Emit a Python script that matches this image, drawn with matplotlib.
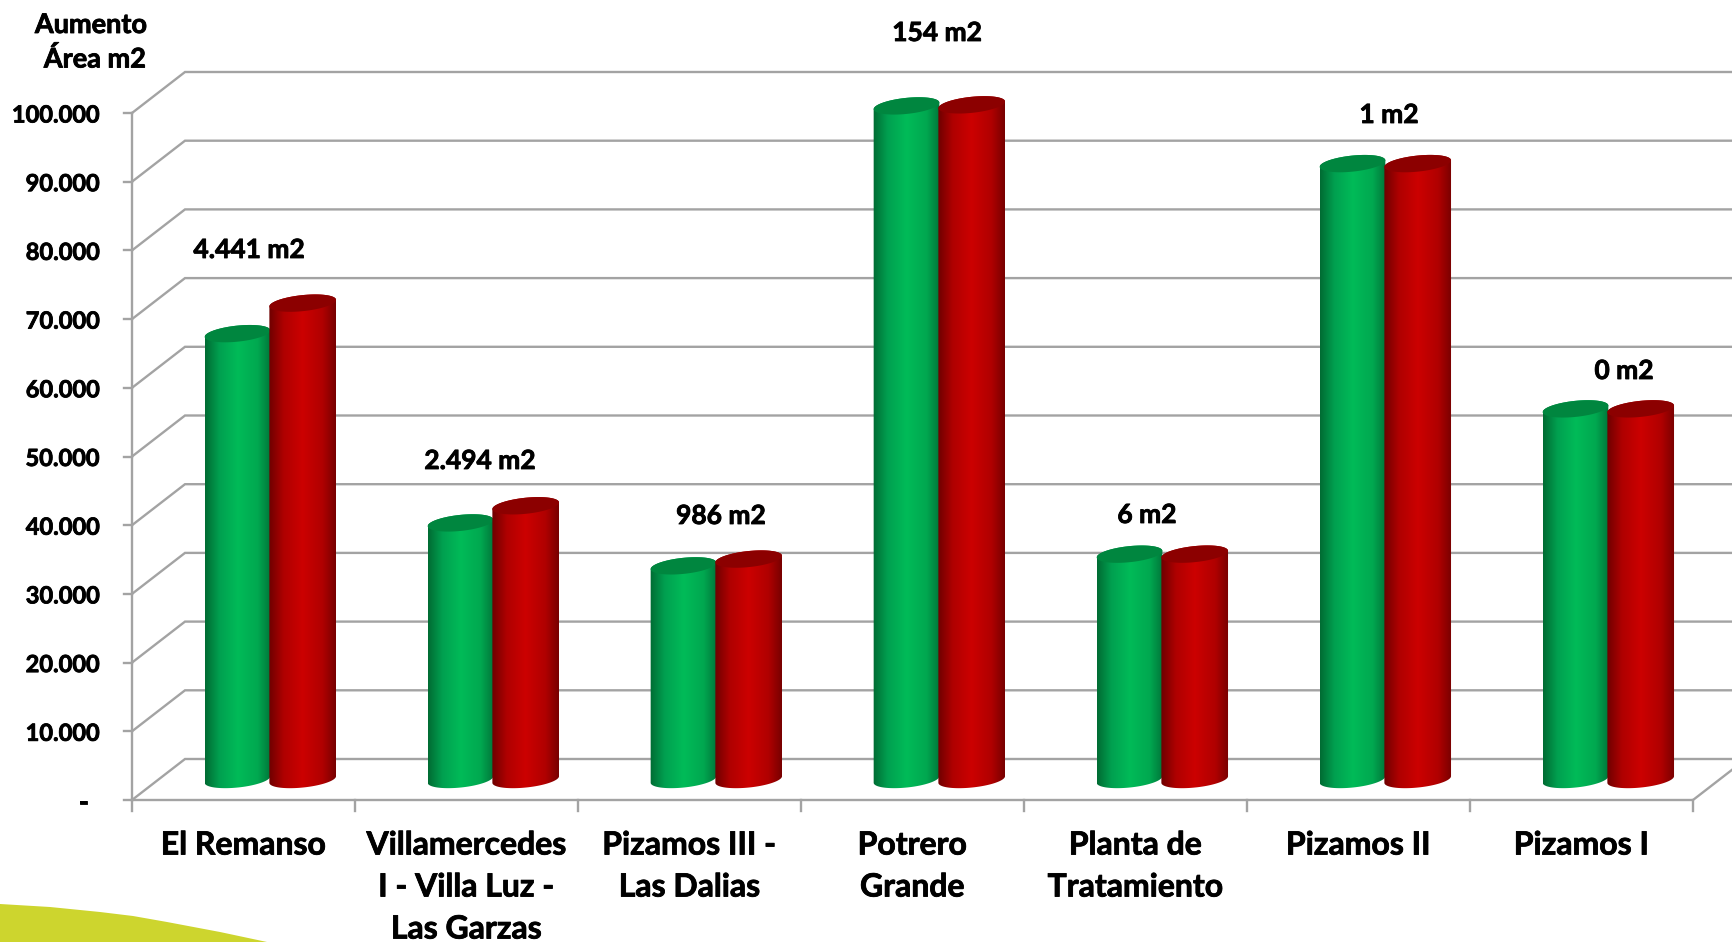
import numpy as np
import matplotlib
matplotlib.use("Agg")
import matplotlib.pyplot as plt
import matplotlib.patheffects as pe
from matplotlib.patches import Polygon

plt.rcParams['font.family'] = ['Lato', 'DejaVu Sans']

categories = ["El Remanso",
              "Villamercedes\nI - Villa Luz -\nLas Garzas",
              "Pizamos III -\nLas Dalias",
              "Potrero\nGrande",
              "Planta de\nTratamiento",
              "Pizamos II",
              "Pizamos I"]
area_before = [64900, 37350, 31100, 98050, 32800, 89650, 53950]
area_after = [69341, 39844, 32086, 98204, 32806, 89651, 53950]
value_ticks = [0, 10000, 20000, 30000, 40000, 50000, 60000, 70000, 80000, 90000, 100000]

# pixel layout of the 3d box
W, H = 1733, 942
X0, Y0 = 132, 800
CAT_W = 223
TEN_K = 68.7
DEPTH_X, DEPTH_Y = 53, 41
HALF_BAR = 33
MINOR = 8.0
TILT = np.radians(6)


def dx(px):
    return px / CAT_W


def dy(px):
    return px / TEN_K * 10000


def dots(v):
    return f"{v:,.0f}".replace(",", ".")


# bold text, slightly thickened
heavy = [pe.withStroke(linewidth=0.6, foreground="black")]

fig = plt.figure(figsize=(W / 100, H / 100), dpi=100)
ax = fig.add_axes([0, 0, 1, 1])
ax.set_xlim(-dx(X0), dx(W - X0))
ax.set_ylim(-dy(H - Y0), dy(Y0))
ax.axis("off")

n = len(categories)
grid = "#a3a3a3"
lw = 1.7
right = n + dx(DEPTH_X)

# back wall, side wall and tick marks
for v in value_ticks:
    ax.plot([0, dx(DEPTH_X), right], [v, v + dy(DEPTH_Y), v + dy(DEPTH_Y)],
            color=grid, lw=lw, solid_joinstyle="miter", zorder=1)
    ax.plot([-dx(8), 0], [v, v], color=grid, lw=lw, zorder=1)
    label = dots(v) if v > 0 else "-"
    ax.text(dx(100 - X0) if v > 0 else dx(88 - X0), v - dy(2), label, ha="right", va="center",
            fontsize=17, fontweight="bold", color="black", path_effects=heavy)
ax.plot([0, 0], [0, 100000], color=grid, lw=lw, zorder=1)

# floor
ax.plot([0, n, right], [0, 0, dy(DEPTH_Y)], color=grid, lw=lw, zorder=1)
for i in range(n + 1):
    ax.plot([i, i], [0, -dy(11)], color=grid, lw=lw, zorder=1)

green_stops = np.array([[0, 107, 51], [0, 160, 80], [0, 187, 88], [0, 168, 80], [0, 118, 58]]) / 255
red_stops = np.array([[110, 0, 0], [175, 0, 0], [204, 0, 0], [176, 0, 0], [120, 0, 0]]) / 255
stop_pos = [0, 0.22, 0.5, 0.8, 1]


def gradient(stops):
    t = np.linspace(0, 1, 256)
    return np.stack([np.interp(t, stop_pos, stops[:, c]) for c in range(3)], axis=1)[None, :, :]


def ellipse(t, a):
    return (a * np.cos(t) * np.cos(TILT) - MINOR * np.sin(t) * np.sin(TILT),
            a * np.cos(t) * np.sin(TILT) + MINOR * np.sin(t) * np.cos(TILT))


def cylinder(xc, value, stops, top_color, a):
    t0 = np.arctan(-(MINOR / a) * np.tan(TILT))
    # lower arc of the foot, then upper arc of the head
    ex1, ey1 = ellipse(np.linspace(np.pi + t0, 2 * np.pi + t0, 60), a)
    ex2, ey2 = ellipse(np.linspace(t0, np.pi + t0, 60), a)
    base_y = dy(DEPTH_Y / 2)
    xs = np.r_[xc + dx(ex1), xc + dx(ex2)]
    ys = np.r_[base_y + dy(ey1), base_y + value + dy(ey2)]
    body = Polygon(np.c_[xs, ys], closed=True, facecolor="none", edgecolor="none",
                   transform=ax.transData)
    ax.add_patch(body)
    im = ax.imshow(gradient(stops), extent=[xc - dx(a), xc + dx(a), 0, dy(Y0)],
                   aspect="auto", interpolation="bilinear", zorder=2)
    im.set_clip_path(body)
    tx, ty = ellipse(np.linspace(0, 2 * np.pi, 120), a)
    ax.fill(xc + dx(tx), base_y + value + dy(ty), color=top_color, lw=0, zorder=2)


for i in range(n):
    mid = i + 0.5 + dx(DEPTH_X / 2)
    cylinder(mid - dx(HALF_BAR) + dx(0.5), area_before[i], green_stops, "#00863f", HALF_BAR)
    cylinder(mid + dx(HALF_BAR) - dx(0.3), area_after[i], red_stops, "#8c0000", HALF_BAR + 0.5)
    for j, line in enumerate(categories[i].split("\n")):
        ax.text(i + 0.5, -dy(845 - Y0 + 42 * j), line, ha="center", va="center",
                fontsize=23, fontweight="bold", color="black", path_effects=heavy)

ax.set_xlim(-dx(X0), dx(W - X0))
ax.set_ylim(-dy(H - Y0), dy(Y0))

# increase printed over each pair
label_x = [249, 480, 721, 937, 1147, 1389, 1624]
label_y = [250, 461, 516, 33, 515, 115, 371]
for i in range(n):
    ax.text(dx(label_x[i] - X0), dy(Y0 - label_y[i]), dots(area_after[i] - area_before[i]) + " m2",
            ha="center", va="center", fontsize=19, fontweight="bold", color="black", path_effects=heavy)

ax.text(dx(91 - X0), dy(Y0 - 25), "Aumento", ha="center", va="center",
        fontsize=19.5, fontweight="bold", color="black", path_effects=heavy)
ax.text(dx(95 - X0), dy(Y0 - 59), "Área m2", ha="center", va="center",
        fontsize=19.5, fontweight="bold", color="black", path_effects=heavy)

# corner decoration
curve_x = [0, 50, 100, 133, 167, 220, 267, 0]
curve_y = [904, 907, 912, 916, 922, 932, 942, 942]
ax.fill(dx(np.array(curve_x) - X0), dy(Y0 - np.array(curve_y)), color="#cdd52e", lw=0, zorder=1)

fig.savefig("out.png", dpi=100)
plt.close("all")
